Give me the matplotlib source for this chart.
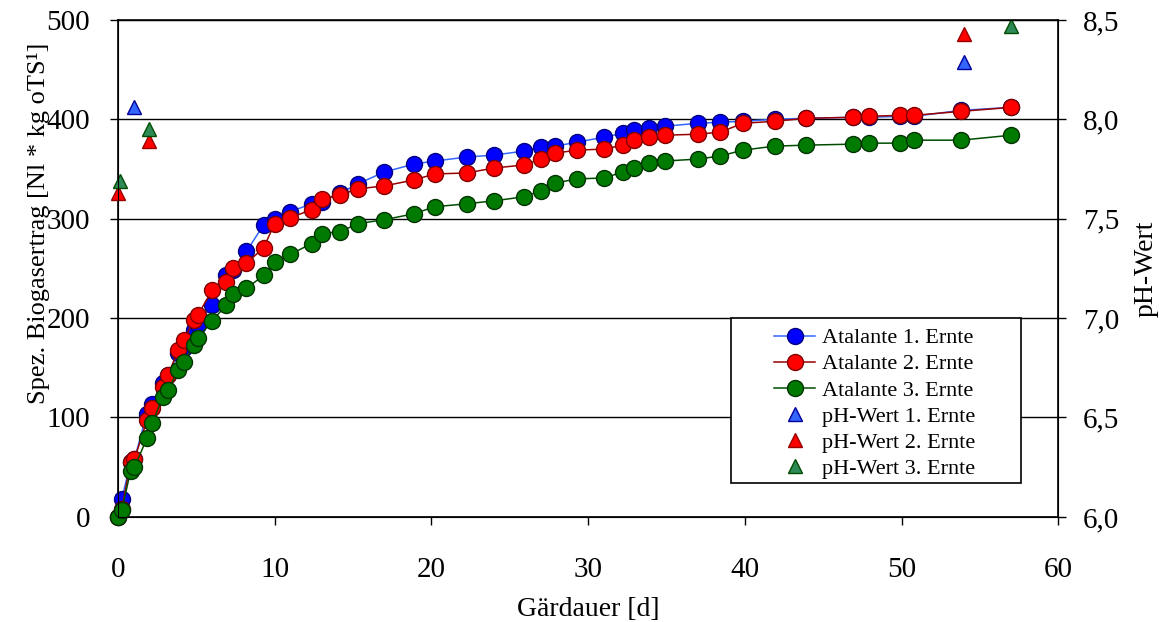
import matplotlib
matplotlib.use("Agg")
import matplotlib.pyplot as plt
from matplotlib.lines import Line2D
from matplotlib.patches import Rectangle
from matplotlib.ticker import FuncFormatter

plt.rcParams['font.family'] = ['Liberation Serif', 'DejaVu Serif']

# Gärdauer [d]
tage = [0, 0.25, 0.8, 1.05, 1.85, 2.2, 2.85, 3.2, 3.85, 4.2, 4.85, 5.1, 6, 6.9, 7.35,
        8.2, 9.3, 10, 11, 12.35, 13, 14.2, 15.3, 17, 18.9, 20.2, 22.25, 24, 25.9, 27,
        27.9, 29.3, 31, 32.25, 32.9, 33.9, 34.9, 37, 38.4, 39.9, 41.9, 43.9, 46.9, 47.9,
        49.9, 50.8, 53.8, 57]

# spez. Biogasertrag [Nl/kg oTS]
ernte1 = [0, 18, 55, 58, 104, 114, 135, 143, 165, 170, 188, 193, 213, 243, 248,
          267, 294, 300, 307, 315, 317, 326, 335, 347, 355, 358, 362, 364, 368, 372,
          373, 377, 382, 386, 389, 391, 393, 396, 397, 398, 400, 401, 402, 402,
          403, 403, 409, 412]
ernte2 = [0, 8, 55, 58, 97, 110, 131, 143, 168, 178, 198, 203, 228, 236, 250,
          255, 271, 295, 301, 309, 320, 324, 330, 333, 339, 345, 346, 351, 354, 360,
          366, 369, 370, 374, 379, 382, 384, 385, 387, 396, 398, 401, 402, 403,
          404, 404, 408, 412]
ernte3 = [0, 7, 46, 50, 79, 94, 121, 128, 148, 156, 173, 180, 197, 213, 224,
          230, 243, 256, 264, 275, 285, 287, 295, 299, 305, 312, 315, 318, 322, 328,
          336, 340, 341, 347, 351, 356, 358, 360, 363, 369, 373, 374, 375, 376,
          376, 379, 379, 384]

# pH-Werte (Start / Ende)
ph_tage1 = [1, 54]
ph1 = [8.06, 8.29]
ph_tage2 = [0, 2, 54]
ph2 = [7.63, 7.89, 8.43]
ph_tage3 = [0.1, 2, 57]
ph3 = [7.69, 7.95, 8.47]

fig = plt.figure(figsize=(11.68, 6.22), dpi=100)
ax = fig.add_axes([0.101, 0.169, 0.805, 0.799])

serien = [
    (ernte1, 'Atalante 1. Ernte', '#3366ff', '#0000ff', '#000080'),
    (ernte2, 'Atalante 2. Ernte', '#990000', '#ff0000', '#800000'),
    (ernte3, 'Atalante 3. Ernte', '#004d00', '#007a00', '#003300'),
]
handles = []
for werte, name, lc, fc, ec in serien:
    ln, = ax.plot(tage, werte, '-o', color=lc, lw=1.1, ms=11.5,
                  markerfacecolor=fc, markeredgecolor=ec, markeredgewidth=1,
                  label=name, clip_on=False, zorder=3)
    handles.append(ln)

ax.set_xlim(0, 60)
ax.set_ylim(0, 500)
ax.set_xticks(range(0, 61, 10))
ax.set_yticks(range(0, 501, 100))
ax.yaxis.grid(True, color='black', lw=1)
ax.set_axisbelow(True)
ax.tick_params(labelsize=21, direction='out', length=6, width=1, colors='black')
ax.tick_params(axis='x', pad=23)
ax.tick_params(axis='y', pad=14)
ax.set_xlabel('Gärdauer [d]', fontsize=20, labelpad=10)
ax.set_ylabel('Spez. Biogasertrag [Nl * kg oTS¹]', fontsize=19)
ax.yaxis.set_label_coords(-0.072, 0.59)
for s in ax.spines.values():
    s.set_linewidth(1.2)

ax2 = ax.twinx()
ax2.set_ylim(6.0, 8.5)
ax2.set_yticks([6.0, 6.5, 7.0, 7.5, 8.0, 8.5])
ax2.yaxis.set_major_formatter(FuncFormatter(lambda v, p: f'{v:.1f}'.replace('.', ',')))
ax2.tick_params(labelsize=21, direction='out', length=6, width=1, pad=12)
ax2.set_ylabel('pH-Wert', fontsize=20, labelpad=10)

ph_serien = [
    (ph_tage1, ph1, 'pH-Wert 1. Ernte', '#3366ff', '#000099'),
    (ph_tage2, ph2, 'pH-Wert 2. Ernte', '#ff0000', '#990000'),
    (ph_tage3, ph3, 'pH-Wert 3. Ernte', '#2e8b57', '#004d00'),
]
for tx, ty, name, fc, ec in ph_serien:
    ax2.plot(tx, ty, linestyle='none', marker='^', ms=10, markerfacecolor=fc,
             markeredgecolor=ec, markeredgewidth=1, clip_on=False)
    handles.append(Line2D([], [], linestyle='none', marker='^', ms=10,
                          markerfacecolor=fc, markeredgecolor=ec, label=name))

# Legendenrahmen separat, damit links Platz bleibt
rahmen = Rectangle((0.626, 0.2235), 0.248, 0.265, transform=fig.transFigure,
                   facecolor='white', edgecolor='black', lw=1.2, zorder=5)
fig.add_artist(rahmen)
leg = fig.legend(handles=handles, loc='upper left', bbox_to_anchor=(0.6627, 0.473),
                 borderaxespad=0, fontsize=16, frameon=False,
                 labelspacing=0.25, handlelength=1.85, handletextpad=0.3,
                 borderpad=0)
leg.set_zorder(6)

fig.savefig('out.png', dpi=100)
